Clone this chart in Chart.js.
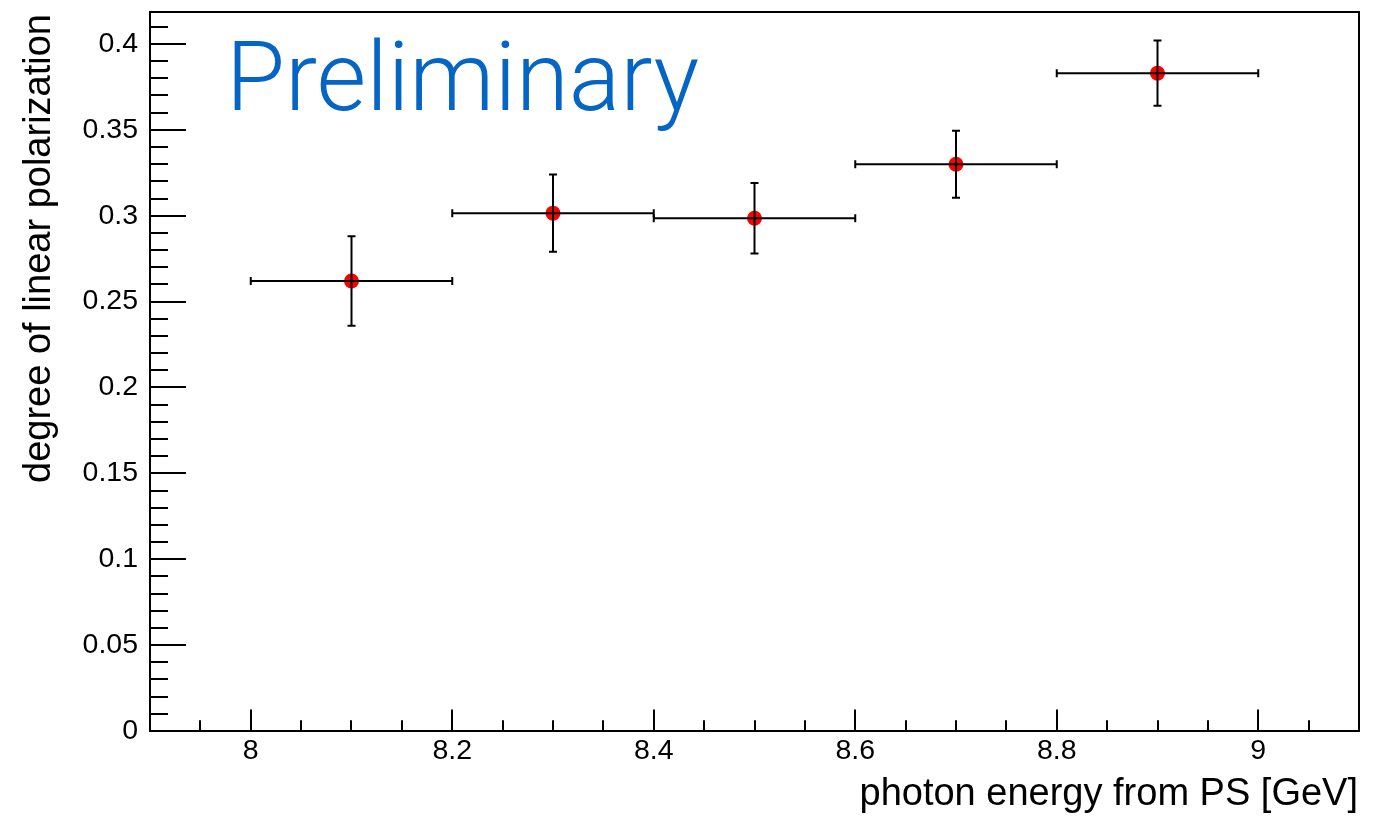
<!DOCTYPE html>
<html><head><meta charset="utf-8">
<script src="https://cdn.jsdelivr.net/npm/chart.js@4/dist/chart.umd.min.js"></script>
<style>html,body{margin:0;padding:0;background:#fff;overflow:hidden}</style>
</head><body>
<canvas id="c" width="1385" height="817"></canvas>
<script>
// ---- data ----
const xValues = [8.1, 8.3, 8.5, 8.7, 8.9];
const yValues = [0.262, 0.3015, 0.2985, 0.330, 0.383];
const xErrors = [0.1, 0.1, 0.1, 0.1, 0.1];
const yErrors = [0.026, 0.0225, 0.0205, 0.0195, 0.019];
const xTickLabels = ['8', '8.2', '8.4', '8.6', '8.8', '9'];
const yTickLabels = ['0', '0.05', '0.1', '0.15', '0.2', '0.25', '0.3', '0.35', '0.4'];
const xTitle = 'photon energy from PS [GeV]';
const yTitle = 'degree of linear polarization';
const stampText = 'Preliminary';

const FONT = '"Liberation Sans", Arial, Helvetica, sans-serif';

function minorList(lo, hi, step) {
  const out = [];
  const n0 = Math.ceil(lo / step - 1e-9), n1 = Math.floor(hi / step + 1e-9);
  for (let n = n0; n <= n1; n++) out.push(+(n * step).toFixed(6));
  return out;
}

const decorPlugin = {
  id: 'decor',
  afterDatasetsDraw(chart) {
    const ctx = chart.ctx, xs = chart.scales.x, ys = chart.scales.y;
    ctx.save();
    ctx.strokeStyle = '#000';
    ctx.lineWidth = 2;
    const cap = 4;
    xValues.forEach((xv, i) => {
      const px = xs.getPixelForValue(xv), py = ys.getPixelForValue(yValues[i]);
      const x0 = xs.getPixelForValue(xv - xErrors[i]), x1 = xs.getPixelForValue(xv + xErrors[i]);
      const y0 = ys.getPixelForValue(yValues[i] - yErrors[i]), y1 = ys.getPixelForValue(yValues[i] + yErrors[i]);
      ctx.beginPath();
      ctx.moveTo(x0, py); ctx.lineTo(x1, py);
      ctx.moveTo(px, y0); ctx.lineTo(px, y1);
      ctx.moveTo(x0, py - cap); ctx.lineTo(x0, py + cap);
      ctx.moveTo(x1, py - cap); ctx.lineTo(x1, py + cap);
      ctx.moveTo(px - cap, y0); ctx.lineTo(px + cap, y0);
      ctx.moveTo(px - cap, y1); ctx.lineTo(px + cap, y1);
      ctx.stroke();
    });
    ctx.restore();
  },
  afterDraw(chart) {
    const ctx = chart.ctx, a = chart.chartArea, xs = chart.scales.x, ys = chart.scales.y;
    ctx.save();
    ctx.strokeStyle = '#000';
    ctx.lineWidth = 2;
    // frame
    ctx.strokeRect(a.left, a.top, a.right - a.left, a.bottom - a.top);
    // y ticks
    const yMajor = yTickLabels.map(parseFloat);
    const yMinor = minorList(ys.min, ys.max, 0.01);
    ctx.beginPath();
    yMinor.forEach(v => {
      const isMajor = yMajor.some(m => Math.abs(m - v) < 1e-6);
      const p = Math.round(ys.getPixelForValue(v));
      ctx.moveTo(a.left, p); ctx.lineTo(a.left + (isMajor ? 36 : 18), p);
    });
    // x ticks
    const xMajor = xTickLabels.map(parseFloat);
    const xMinor = minorList(xs.min, xs.max, 0.05);
    xMinor.forEach(v => {
      const isMajor = xMajor.some(m => Math.abs(m - v) < 1e-6);
      const p = Math.round(xs.getPixelForValue(v));
      ctx.moveTo(p, a.bottom); ctx.lineTo(p, a.bottom - (isMajor ? 21.6 : 10.8));
    });
    ctx.stroke();
    // axis titles
    ctx.fillStyle = '#000';
    ctx.font = '38px ' + FONT;
    ctx.textBaseline = 'alphabetic';
    ctx.textAlign = 'right';
    ctx.fillText(xTitle, a.right - 1, 805);
    ctx.save();
    ctx.translate(50, a.top + 2);
    ctx.rotate(-Math.PI / 2);
    ctx.textAlign = 'right';
    ctx.fillText(yTitle, 0, 0);
    ctx.restore();
    // stamp
    ctx.fillStyle = '#0565c4';
    ctx.font = '300 96px Roboto, "Open Sans", Lato, ' + FONT;
    ctx.textAlign = 'left';
    ctx.fillText(stampText, 226, 110);
    ctx.restore();
  }
};

new Chart(document.getElementById('c'), {
  type: 'scatter',
  data: {
    datasets: [{
      data: xValues.map((x, i) => ({ x: x, y: yValues[i] })),
      backgroundColor: '#ff0000',
      borderWidth: 0,
      pointRadius: 7.5,
      pointHoverRadius: 7.5
    }]
  },
  options: {
    responsive: false,
    animation: false,
    devicePixelRatio: 1,
    layout: { padding: { top: 12, right: 26, left: 0, bottom: 0 } },
    plugins: { legend: { display: false }, tooltip: { enabled: false } },
    scales: {
      x: {
        type: 'linear', min: 7.9, max: 9.1,
        grid: { display: false, drawTicks: false },
        border: { display: false },
        afterBuildTicks: s => { s.ticks = xTickLabels.map(t => ({ value: parseFloat(t) })); },
        ticks: {
          padding: 3, color: '#000', maxRotation: 0, autoSkip: false,
          font: { family: FONT, size: 28.5 },
          callback: (v, i) => xTickLabels[i]
        },
        afterFit: s => { s.height = 86; s.paddingLeft = 0; s.paddingRight = 0; }
      },
      y: {
        type: 'linear', min: 0, max: 0.4186,
        grid: { display: false, drawTicks: false },
        border: { display: false },
        afterBuildTicks: s => { s.ticks = yTickLabels.map(t => ({ value: parseFloat(t) })); },
        ticks: {
          padding: 12, color: '#000', autoSkip: false,
          font: { family: FONT, size: 28.5 },
          callback: (v, i) => yTickLabels[i]
        },
        afterFit: s => { s.width = 150; s.paddingTop = 0; s.paddingBottom = 0; }
      }
    }
  },
  plugins: [decorPlugin]
});
</script>
</body></html>
